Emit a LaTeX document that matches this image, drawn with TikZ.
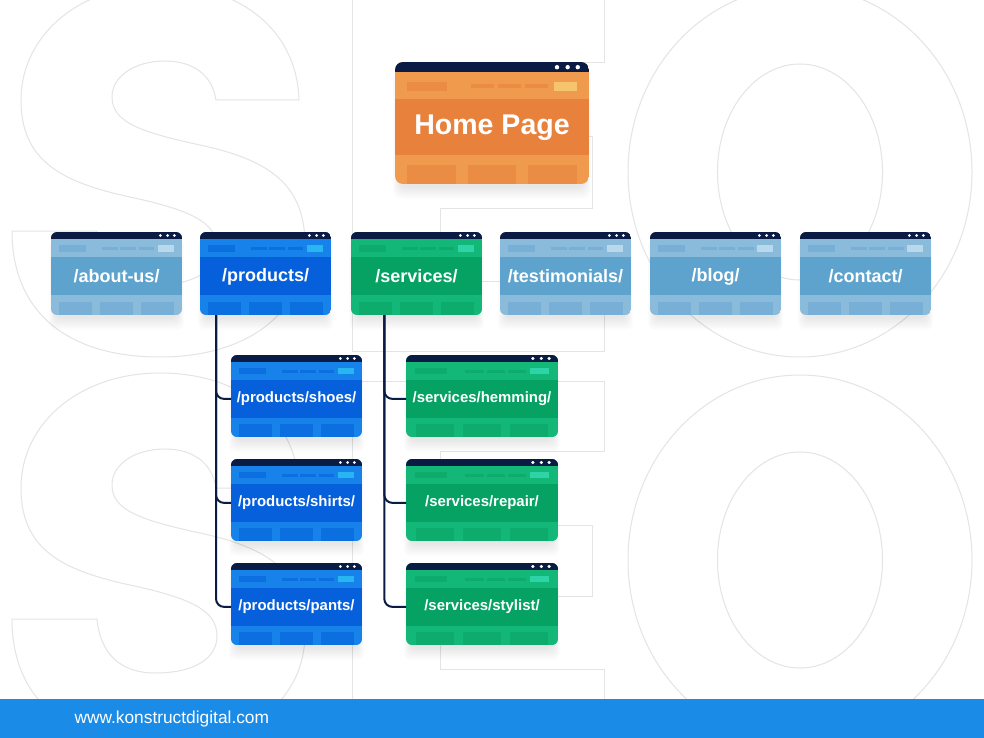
\documentclass[tikz,border=0pt]{standalone}
\usepackage{fontspec}
\setmainfont{Liberation Sans}
\usetikzlibrary{fit}

\definecolor{navy}{HTML}{0B1C44}
\definecolor{footblue}{HTML}{1A8CE8}
\definecolor{ghostgray}{HTML}{E4E4E4}
\definecolor{paleStrip}{HTML}{8BBBDB}
\definecolor{paleBand}{HTML}{5DA3CD}
\definecolor{palePh}{HTML}{77AFD6}
\definecolor{paleHi}{HTML}{BAD8EC}
\definecolor{blueStrip}{HTML}{1783EA}
\definecolor{blueBand}{HTML}{0660DC}
\definecolor{bluePh}{HTML}{0B6FE0}
\definecolor{blueHi}{HTML}{27B6F1}
\definecolor{greenStrip}{HTML}{13B879}
\definecolor{greenBand}{HTML}{05A263}
\definecolor{greenPh}{HTML}{0DAB6C}
\definecolor{greenHi}{HTML}{2ED3A8}
\definecolor{orangeStrip}{HTML}{F09A4D}
\definecolor{orangeBand}{HTML}{E8813C}
\definecolor{orangePh}{HTML}{EB8C44}
\definecolor{orangeHi}{HTML}{F5C46C}

\newcommand{\homefont}{\fontsize{21.4}{24}\selectfont\bfseries}
\newcommand{\pagefont}{\fontsize{13.5}{16}\selectfont\bfseries}
\newcommand{\subpagefont}{\fontsize{11.2}{13}\selectfont\bfseries}

\tikzset{
every picture/.style={
line width=0.75pt
}}

% #1 name, #2 x, #3 y, #4 width, #5 height, #6 colours, #7 text, #8 font, #9 corner
\newcommand{\webpage}[9]{%
  \foreach \s in {1,...,8} {
    \fill[black, opacity=0.012, rounded corners=#9]
        ({#2+6-\s},{#3+8}) rectangle ({#2+#4-6+\s},{#3+#5+2+1.6*\s});
  }
  \begin{scope}
    \clip[rounded corners=#9] (#2,#3) rectangle ++(#4,#5);
    \fill[#6Strip] (#2,#3) rectangle ++(#4,#5);
    \fill[#6Band] (#2,{#3+0.305*#5}) rectangle ({#2+#4},{#3+0.765*#5});
    \fill[navy] (#2,#3) rectangle ({#2+#4},{#3+0.085*#5});
    % top strip
    \fill[#6Ph] ({#2+0.061*#4},{#3+0.16*#5}) rectangle ({#2+0.27*#4},{#3+0.235*#5});
    \fill[#6Ph] ({#2+0.39*#4},{#3+0.18*#5}) rectangle ({#2+0.51*#4},{#3+0.215*#5});
    \fill[#6Ph] ({#2+0.53*#4},{#3+0.18*#5}) rectangle ({#2+0.65*#4},{#3+0.215*#5});
    \fill[#6Ph] ({#2+0.67*#4},{#3+0.18*#5}) rectangle ({#2+0.79*#4},{#3+0.215*#5});
    \fill[#6Hi] ({#2+0.817*#4},{#3+0.16*#5}) rectangle ({#2+0.939*#4},{#3+0.235*#5});
    % bottom strip
    \fill[#6Ph] ({#2+0.064*#4},{#3+0.845*#5}) rectangle ({#2+0.316*#4},{#3+#5});
    \fill[#6Ph] ({#2+0.374*#4},{#3+0.845*#5}) rectangle ({#2+0.626*#4},{#3+#5});
    \fill[#6Ph] ({#2+0.684*#4},{#3+0.845*#5}) rectangle ({#2+0.936*#4},{#3+#5});
  \end{scope}
  \fill[white] ({#2+0.835*#4},{#3+0.0425*#5}) circle[radius={0.0085*#4pt}]
               ({#2+0.89*#4},{#3+0.0425*#5}) circle[radius={0.0085*#4pt}]
               ({#2+0.942*#4},{#3+0.0425*#5}) circle[radius={0.0085*#4pt}];
  \node[pagebox, fit={(#2,#3) ({#2+#4},{#3+#5})}] (#1) {};
  \node[pagetext, font=#8] (#1-t) at ({#2+0.5*#4},{#3+0.535*#5}) {#7};
}

\begin{document}
\begin{tikzpicture}[x=0.75pt, y=-0.75pt,
      ghost/.style = {draw=ghostgray, line width=0.75pt},
    pagebox/.style = {inner sep=0pt, outer sep=0pt},
   pagetext/.style = {text=white, inner sep=0pt},
       link/.style = {draw=navy, line width=1.5pt, rounded corners=6pt}]
\useasboundingbox (0,0) rectangle (984,738);
\fill[white] (0,0) rectangle (984,738);
%% big S E O letters behind
\begin{scope}
\clip (0,0) rectangle (984,738);
\foreach \dy in {0,388} {
  \begin{scope}[shift={(0,\dy)}]
  \draw[ghost] (299,100) -- (216,100)
      .. controls (212,74) and (192,61) .. (165,61)
      .. controls (135,61) and (112,76) .. (112,97)
      .. controls (112,122) and (140,132) .. (200,145)
      .. controls (270,160) and (305,185) .. (305,245)
      .. controls (305,315) and (245,357) .. (160,357)
      .. controls (65,357) and (12,310) .. (12,231)
      -- (97,231)
      .. controls (100,265) and (120,285) .. (155,285)
      .. controls (195,285) and (217,270) .. (217,248)
      .. controls (217,222) and (190,210) .. (130,197)
      .. controls (60,182) and (21,160) .. (21,100)
      .. controls (21,35) and (80,-15) .. (160,-15)
      .. controls (240,-15) and (297,30) .. (299,100) -- cycle;
  \draw[ghost] (352,-7) -- (604,-7) -- (604,63) -- (440,63) -- (440,137)
      -- (592,137) -- (592,208) -- (440,208) -- (440,281) -- (604,281)
      -- (604,351) -- (352,351) -- cycle;
  \draw[ghost] (800,172) ellipse[x radius=129pt, y radius=138.75pt];
  \draw[ghost] (800,172) ellipse[x radius=61.9pt, y radius=81pt];
  \end{scope}
}
\end{scope}
%% footer
\fill[footblue] (0,699) rectangle (984,738);
\node[anchor=west, text=white, inner sep=0pt, font=\fontsize{13}{15}\selectfont]
    (site) at (74,719) {www.konstructdigital.com};
%% pages
\webpage{home}{395}{62}{194}{122}{orange}{Home Page}{\homefont}{6pt}
\webpage{about}{51}{232}{131}{83}{pale}{/about-us/}{\pagefont}{4.5pt}
\webpage{products}{200}{232}{131}{83}{blue}{/products/}{\pagefont}{4.5pt}
\webpage{services}{351}{232}{131}{83}{green}{/services/}{\pagefont}{4.5pt}
\webpage{testimonials}{500}{232}{131}{83}{pale}{/testimonials/}{\pagefont}{4.5pt}
\webpage{blog}{650}{232}{131}{83}{pale}{/blog/}{\pagefont}{4.5pt}
\webpage{contact}{800}{232}{131}{83}{pale}{/contact/}{\pagefont}{4.5pt}
%
\webpage{shoes}{231}{355}{131}{82}{blue}{/products/shoes/}{\subpagefont}{4.5pt}
\webpage{shirts}{231}{459}{131}{82}{blue}{/products/shirts/}{\subpagefont}{4.5pt}
\webpage{pants}{231}{563}{131}{82}{blue}{/products/pants/}{\subpagefont}{4.5pt}
\webpage{hemming}{406}{355}{152}{82}{green}{/services/hemming/}{\subpagefont}{4.5pt}
\webpage{repair}{406}{459}{152}{82}{green}{/services/repair/}{\subpagefont}{4.5pt}
\webpage{stylist}{406}{563}{152}{82}{green}{/services/stylist/}{\subpagefont}{4.5pt}
%% tree lines
\draw[link] ([xshift=12pt]products.south west) |- (shoes-t -| shoes.west);
\draw[link] ([xshift=12pt]products.south west) |- (shirts-t -| shirts.west);
\draw[link] ([xshift=12pt]products.south west) |- (pants-t -| pants.west);
\draw[link] ([xshift=25pt]services.south west) |- (hemming-t -| hemming.west);
\draw[link] ([xshift=25pt]services.south west) |- (repair-t -| repair.west);
\draw[link] ([xshift=25pt]services.south west) |- (stylist-t -| stylist.west);
\end{tikzpicture}
\end{document}
